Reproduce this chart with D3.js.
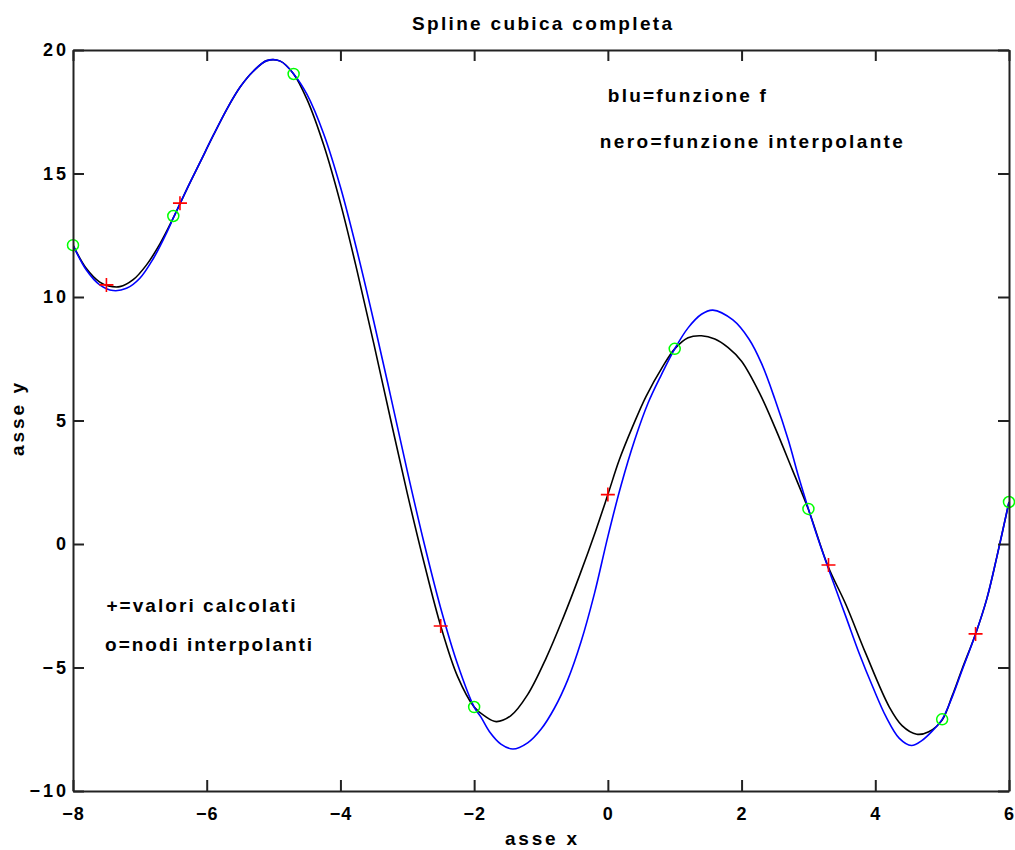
<!DOCTYPE html>
<html>
<head>
<meta charset="utf-8">
<script src="https://cdn.jsdelivr.net/npm/d3@7"></script>
<style>
  body { margin: 0; background: #ffffff; }
  text { font-family: "Liberation Sans", Arial, sans-serif; font-weight: bold; fill: #000; }
</style>
</head>
<body>
<div id="chart"></div>
<script>
// values

// blu = funzione f
var fX = [-8, -7.8, -7.6, -7.4, -7.2, -7.0, -6.8, -6.6, -6.5, -6.3, -6.1, -5.9, -5.7, -5.5, -5.3, -5.1, -4.9, -4.7,
  -4.5, -4.25, -4.0, -3.75, -3.5, -3.25, -3.0, -2.75, -2.5, -2.25, -2.0, -1.9, -1.77, -1.6, -1.42, -1.2, -1.0,
  -0.8, -0.6, -0.4, -0.2, 0, 0.2, 0.4, 0.6, 0.8, 1.0, 1.2, 1.4, 1.57, 1.87, 2.11, 2.3, 2.5, 2.7, 2.85, 3.0,
  3.15, 3.36, 3.56, 3.76, 3.96, 4.16, 4.36, 4.54, 4.7, 4.86, 5.0, 5.15, 5.3, 5.5, 5.67, 5.82, 6.0];
var fY = [12.1, 11.09, 10.49, 10.26, 10.35, 10.76, 11.55, 12.6, 13.2, 14.35, 15.45, 16.55, 17.6, 18.5, 19.15, 19.57, 19.55, 19.03,
  18.2, 16.6, 14.45, 11.85, 9.0, 6.0, 2.95, 0.05, -2.6, -4.85, -6.6, -7.0, -7.6, -8.1, -8.3, -8.05, -7.5,
  -6.65, -5.5, -3.95, -2.0, 0.3, 2.4, 4.2, 5.7, 6.85, 7.9, 8.75, 9.3, 9.47, 9.07, 8.3, 7.3, 5.85, 4.2, 2.75, 1.42,
  0.16, -1.46, -2.94, -4.43, -5.77, -6.99, -7.87, -8.16, -7.95, -7.55, -7.1, -6.2, -5.1, -3.64, -2.2, -0.5, 1.7];

// nero = funzione interpolante (spline cubica completa)
var sX = [-8, -7.8, -7.6, -7.47, -7.3, -7.1, -6.9, -6.7, -6.5, -6.3, -6.1, -5.9, -5.7, -5.5, -5.3, -5.1, -4.9, -4.7,
  -4.5, -4.25, -4.0, -3.75, -3.5, -3.25, -3.0, -2.75, -2.5, -2.25, -2.0, -1.85, -1.67, -1.45, -1.2, -0.92,
  -0.67, -0.42, -0.18, 0, 0.17, 0.37, 0.57, 0.82, 1.0, 1.2, 1.4, 1.6, 1.8, 2.0, 2.28, 2.51, 2.76, 3.0,
  3.29, 3.56, 3.86, 4.21, 4.4, 4.62, 4.8, 5.0, 5.15, 5.3, 5.5, 5.67, 5.82, 6.0];
var sY = [12.1, 11.15, 10.6, 10.45, 10.42, 10.7, 11.3, 12.15, 13.2, 14.35, 15.45, 16.55, 17.6, 18.5, 19.15, 19.57, 19.55, 19.03,
  18.0, 16.15, 13.8, 11.05, 8.1, 5.05, 2.05, -0.75, -3.32, -5.35, -6.6, -6.95, -7.19, -6.95, -6.1, -4.6,
  -3.0, -1.25, 0.55, 2.0, 3.4, 4.75, 5.97, 7.18, 7.9, 8.35, 8.43, 8.3, 7.95, 7.4, 6.05, 4.65, 3.0, 1.4,
  -0.88, -2.45, -4.45, -6.6, -7.35, -7.7, -7.6, -7.13, -6.15, -5.05, -3.64, -2.2, -0.5, 1.7];

// o = nodi interpolanti
var nodeX = [-8, -6.5, -4.7, -2, 1, 3, 5, 6];
var nodeY = [12.1, 13.28, 19.03, -6.6, 7.9, 1.42, -7.1, 1.7];

// + = valori calcolati
var calcX = [-7.5, -6.4, -2.5, 0, 3.3, 5.5];
var calcY = [10.49, 13.8, -3.32, 2.0, -0.85, -3.64];

var xTicks = [-8, -6, -4, -2, 0, 2, 4, 6];
var yTicks = [-10, -5, 0, 5, 10, 15, 20];

var titleText = "Spline cubica completa";
var xLabel = "asse x";
var yLabel = "asse y";

// svg size and margins
var svgWidth = 1015;
var svgHeight = 850;
var margin = { top: 50, right: 6, bottom: 59, left: 73 };
var width = svgWidth - margin.left - margin.right;
var height = svgHeight - margin.top - margin.bottom;

var svg = d3.select("#chart")
  .append("svg")
  .attr("width", svgWidth)
  .attr("height", svgHeight);

var g = svg.append("g")
  .attr("transform", `translate(${margin.left}, ${margin.top})`);

var x = d3.scaleLinear().domain([-8, 6]).range([0, width]);
var y = d3.scaleLinear().domain([-10, 20]).range([height, 0]);

// clip the curves to the box
g.append("clipPath").attr("id", "clip")
  .append("rect").attr("width", width).attr("height", height);

// curves
var line = d3.line()
  .x(d => x(d[0]))
  .y(d => y(d[1]))
  .curve(d3.curveCatmullRom.alpha(0.5));

var fData = fX.map((v, i) => [v, fY[i]]);
var sData = sX.map((v, i) => [v, sY[i]]);

g.append("path")
  .datum(sData)
  .attr("clip-path", "url(#clip)")
  .attr("fill", "none")
  .attr("stroke", "#000000")
  .attr("stroke-width", 1.6)
  .attr("d", line);

g.append("path")
  .datum(fData)
  .attr("clip-path", "url(#clip)")
  .attr("fill", "none")
  .attr("stroke", "#0000ff")
  .attr("stroke-width", 1.6)
  .attr("d", line);

// green circles
g.selectAll(".node")
  .data(nodeX.map((v, i) => [v, nodeY[i]]))
  .enter().append("circle")
  .attr("class", "node")
  .attr("cx", d => x(d[0]))
  .attr("cy", d => y(d[1]))
  .attr("r", 5.5)
  .attr("fill", "none")
  .attr("stroke", "#00ff00")
  .attr("stroke-width", 1.5);

// red plus signs
g.selectAll(".calc")
  .data(calcX.map((v, i) => [v, calcY[i]]))
  .enter().append("path")
  .attr("class", "calc")
  .attr("transform", d => `translate(${x(d[0])}, ${y(d[1])})`)
  .attr("d", "M-7,0H7M0,-7V7")
  .attr("fill", "none")
  .attr("stroke", "#ff0000")
  .attr("stroke-width", 1.6);

// axes, ticks pointing inwards on all four sides
var bottomAxis = d3.axisBottom(x).tickValues(xTicks).tickSizeInner(-11).tickSizeOuter(0).tickPadding(16);
var leftAxis = d3.axisLeft(y).tickValues(yTicks).tickSizeInner(-11).tickSizeOuter(0).tickPadding(4);
var topAxis = d3.axisTop(x).tickValues(xTicks).tickSizeInner(-11).tickSizeOuter(0).tickFormat("");
var rightAxis = d3.axisRight(y).tickValues(yTicks).tickSizeInner(-11).tickSizeOuter(0).tickFormat("");

var xAxisG = g.append("g").attr("transform", `translate(0, ${height})`).call(bottomAxis);
var yAxisG = g.append("g").call(leftAxis);
var axes = [
  xAxisG,
  yAxisG,
  g.append("g").call(topAxis),
  g.append("g").attr("transform", `translate(${width}, 0)`).call(rightAxis)
];
axes.forEach(function(a) {
  a.selectAll("path, line").attr("stroke", "#222").attr("stroke-width", 2);
  a.selectAll("text")
    .attr("fill", "#000")
    .style("font-family", "'Liberation Sans', Arial, sans-serif")
    .style("font-weight", "bold")
    .style("font-size", "18px");
});
xAxisG.selectAll("text").style("letter-spacing", "1px");
yAxisG.selectAll("text").style("letter-spacing", "3px");

// title and axis labels, stretched to the widths seen in the picture
svg.append("text")
  .attr("x", 542)
  .attr("y", 30)
  .attr("text-anchor", "middle")
  .attr("textLength", 260)
  .attr("lengthAdjust", "spacing")
  .style("font-size", "19px")
  .text(titleText);

svg.append("text")
  .attr("x", 541)
  .attr("y", 845)
  .attr("text-anchor", "middle")
  .attr("textLength", 72)
  .attr("lengthAdjust", "spacing")
  .style("font-size", "19px")
  .text(xLabel);

svg.append("text")
  .attr("transform", `translate(24, ${margin.top + height / 2 - 1}) rotate(-90)`)
  .attr("text-anchor", "middle")
  .attr("textLength", 73)
  .attr("lengthAdjust", "spacing")
  .style("font-size", "19px")
  .text(yLabel);

// notes inside the plot: text, x, y, width
var notes = [
  ["blu=funzione f", 0.0, 17.9, 158],
  ["nero=funzione interpolante", -0.12, 16.05, 303],
  ["+=valori calcolati", -7.5, -2.75, 189],
  ["o=nodi interpolanti", -7.52, -4.35, 207]
];
g.selectAll(".note")
  .data(notes)
  .enter().append("text")
  .attr("class", "note")
  .attr("x", d => x(d[1]))
  .attr("y", d => y(d[2]))
  .attr("textLength", d => d[3])
  .attr("lengthAdjust", "spacing")
  .style("font-size", "19px")
  .text(d => d[0]);
</script>
</body>
</html>
